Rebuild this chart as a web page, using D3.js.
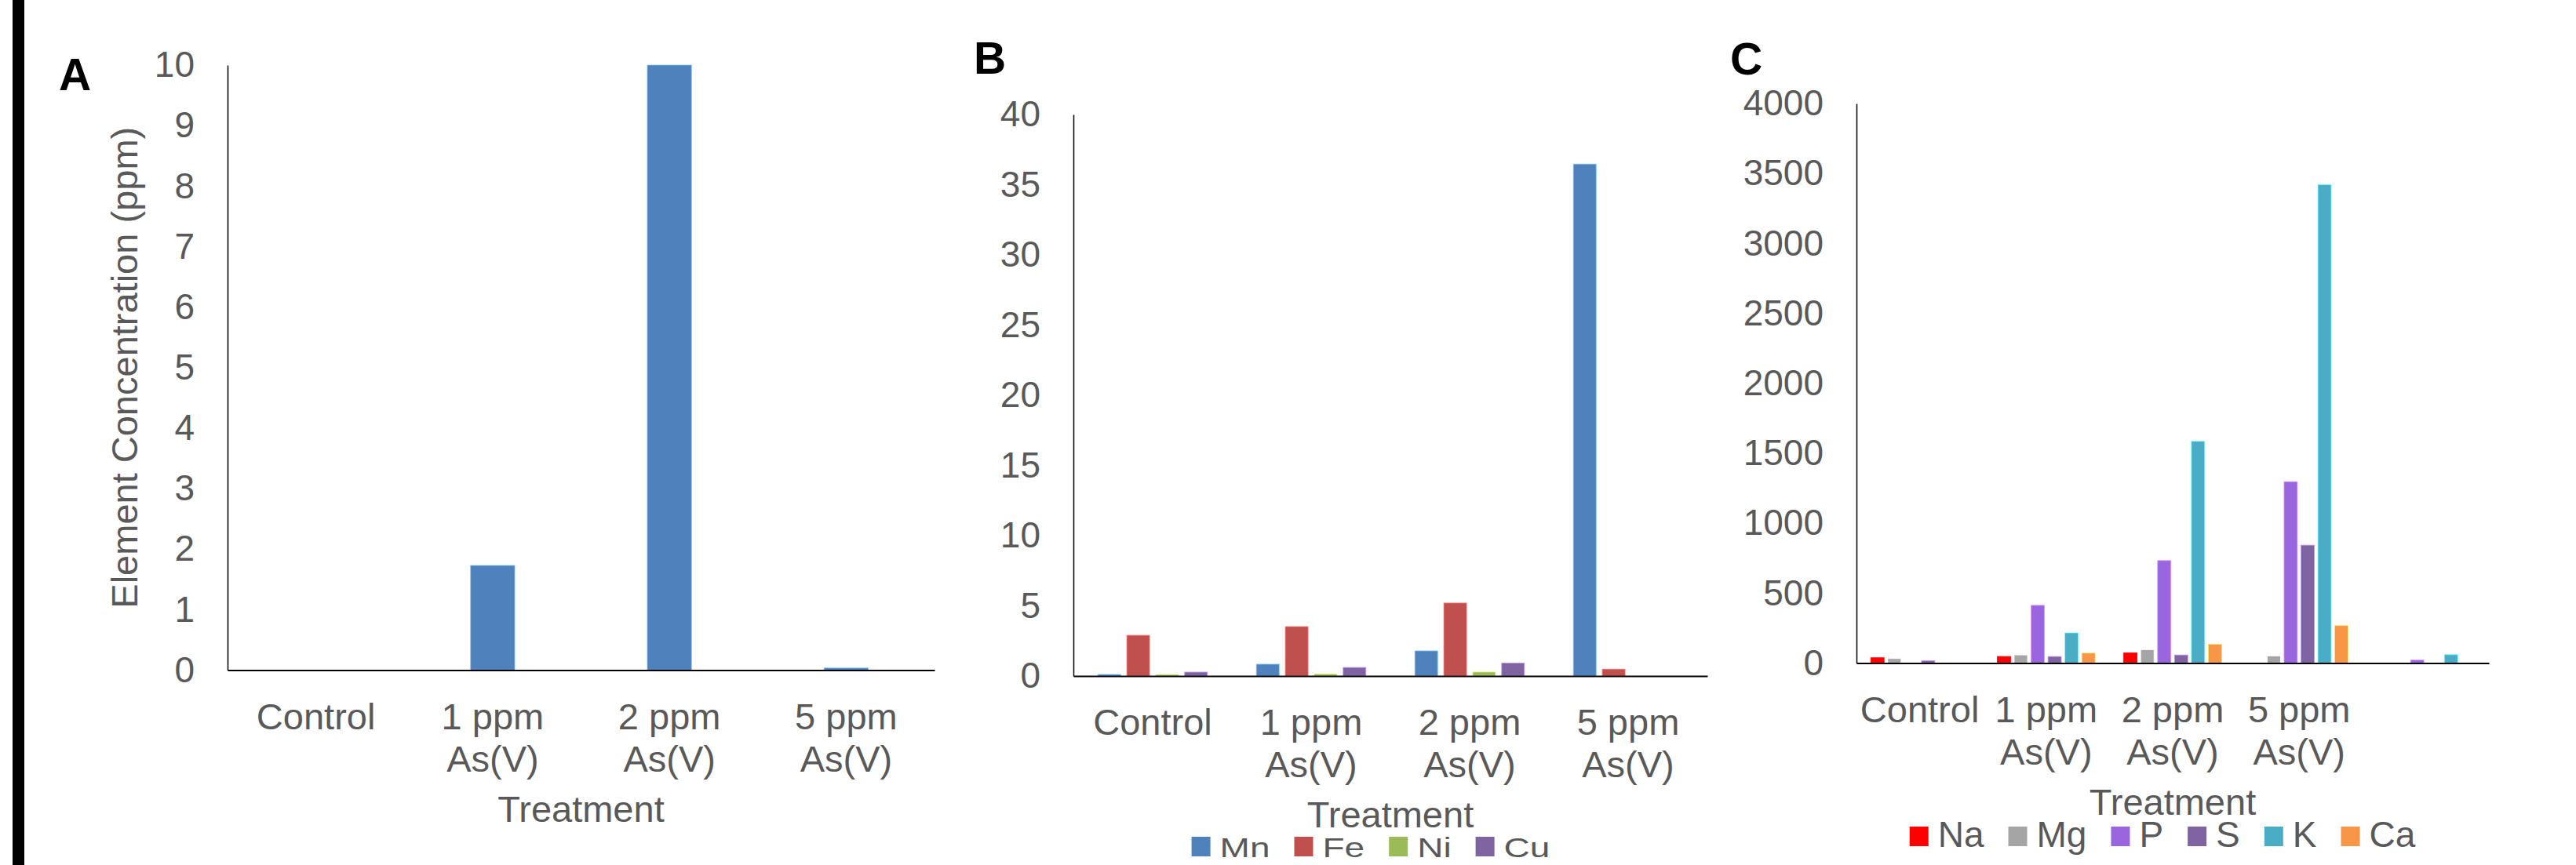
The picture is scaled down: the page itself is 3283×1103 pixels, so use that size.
<!DOCTYPE html>
<html>
<head>
<meta charset="utf-8">
<script src="https://cdn.jsdelivr.net/npm/d3@7"></script>
<style>
body { margin: 0; background: #fff; }
text { font-family: "Liberation Sans", Arial, sans-serif; }
</style>
</head>
<body>
<script>

// categories
var treatments = ["Control", "1 ppm As(V)", "2 ppm As(V)", "5 ppm As(V)"],
	treatmentsC = ["Control", "1 ppm As(V)", "2 ppm As(V)", "5 ppm As(V)", ""];

// panel A - As
var asSeries = ["As"],
	asValues = [0, 1.73, 10, 0.035],
	ticksA = [0, 1, 2, 3, 4, 5, 6, 7, 8, 9, 10];

// panel B - trace elements
var traceSeries = ["Mn", "Fe", "Ni", "Cu"],
	mnValues = [0.11, 0.84, 1.79, 36.47],
	feValues = [2.9, 3.52, 5.2, 0.49],
	niValues = [0.11, 0.15, 0.29, 0],
	cuValues = [0.28, 0.61, 0.92, 0],
	ticksB = [0, 5, 10, 15, 20, 25, 30, 35, 40];

// panel C - macro elements
var macroSeries = ["Na", "Mg", "P", "S", "K", "Ca"],
	naValues = [38, 47, 73, 0, 0],
	mgValues = [32, 58, 95, 50, 0],
	pValues = [0, 413, 733, 1297, 22],
	sValues = [17, 47, 58, 843, 0],
	kValues = [0, 216, 1585, 3420, 60],
	caValues = [0, 71, 135, 268, 0],
	ticksC = [0, 500, 1000, 1500, 2000, 2500, 3000, 3500, 4000];

var colorsA = ["#4F81BD"],
	colorsB = ["#4F81BD", "#C0504D", "#9BBB59", "#8064A2"],
	colorsC = ["#FF0000", "#A5A5A5", "#9966E0", "#8064A2", "#4BACC6", "#F79646"];

var width = 3283,
	height = 1103,
	textGray = "#595959",
	gapWidth = 2.15,   // excel-ish gap between clusters, in bar widths
	overlap = 0.27;    // space between bars in a cluster, in bar widths

var svg = d3.select("body")
	.append("svg")
	.attr("width", width)
	.attr("height", height);

svg.append("rect")
	.attr("x", 16)
	.attr("y", 0)
	.attr("width", 15)
	.attr("height", height)
	.attr("fill", "#000");

function drawPanel(p) {
	var g = svg.append("g");
	var n = p.series.length;
	var pad = gapWidth / (n + (n - 1) * overlap + gapWidth);

	var x0 = d3.scaleBand()
		.domain(p.cats)
		.range([p.left, p.right])
		.paddingInner(pad)
		.paddingOuter(pad / 2);
	var x1 = d3.scaleBand()
		.domain(p.series)
		.range([0, x0.bandwidth()])
		.paddingInner(overlap / (1 + overlap))
		.paddingOuter(0);
	var y = d3.scaleLinear()
		.domain([0, p.max])
		.range([p.bottom, p.top]);

	// bars
	p.series.forEach(function(s, i) {
		g.selectAll(null)
			.data(p.values[i])
			.enter()
			.append("rect")
			.attr("x", function(d, j) { return x0(p.cats[j]) + x1(s); })
			.attr("y", function(d) { return y(d); })
			.attr("width", x1.bandwidth())
			.attr("height", function(d) { return y(0) - y(d); })
			.attr("fill", p.colors[i])
			.attr("stroke", d3.color(p.colors[i]).brighter(1.2))
			.attr("stroke-width", 0.8)
			.style("display", function(d) { return d > 0 ? null : "none"; });
	});

	// y axis
	var yAxis = d3.axisLeft(y)
		.tickValues(p.ticks)
		.tickSize(0)
		.tickSizeOuter(0)
		.tickPadding(42)
		.tickFormat(d3.format("d"));
	var ya = g.append("g")
		.attr("transform", "translate(" + p.left + ",0)")
		.call(yAxis);
	ya.select(".domain").attr("stroke", "#000").attr("stroke-width", 1.5);
	ya.selectAll("text")
		.attr("font-family", "Liberation Sans, Arial, sans-serif")
		.attr("font-size", 46)
		.attr("fill", textGray);

	// x axis line
	var xAxis = d3.axisBottom(x0).tickSize(0).tickSizeOuter(0).tickFormat("");
	var xa = g.append("g")
		.attr("transform", "translate(0," + p.bottom + ")")
		.call(xAxis);
	xa.select(".domain").attr("stroke", "#000").attr("stroke-width", 2.2);

	// category labels, split in two lines
	p.cats.forEach(function(c) {
		var k = c.indexOf("As(V)");
		var lines = k > 0 ? [c.slice(0, k).trim(), "As(V)"] : [c];
		var t = g.append("text")
			.attr("text-anchor", "middle")
			.attr("font-size", 47)
			.attr("fill", textGray);
		lines.forEach(function(l, li) {
			t.append("tspan")
				.attr("x", x0(c) + x0.bandwidth() / 2)
				.attr("y", p.bottom + 75 + li * 54)
				.text(l);
		});
	});

	g.append("text")
		.attr("x", (p.left + p.right) / 2)
		.attr("y", p.bottom + 193)
		.attr("text-anchor", "middle")
		.attr("font-size", 47)
		.attr("fill", textGray)
		.text("Treatment");

	// panel letter
	g.append("text")
		.attr("x", p.letterX)
		.attr("y", p.letterY)
		.attr("font-size", 57)
		.attr("font-weight", "bold")
		.attr("fill", "#000")
		.text(p.letter);

	// legend
	if (p.legend) {
		var lg = g.append("g");
		var cx = 0;
		p.series.forEach(function(s, i) {
			var it = lg.append("g").attr("transform", "translate(" + cx + ",0)");
			it.append("rect")
				.attr("x", 0)
				.attr("y", -26)
				.attr("width", 24)
				.attr("height", 25)
				.attr("fill", p.colors[i]);
			var t = it.append("text")
				.attr("transform", "translate(36,0) scale(1," + p.legendSquash + ")")
				.attr("font-size", 46)
				.attr("fill", textGray)
				.text(s);
			cx += 36 + t.node().getComputedTextLength() + 31;
		});
		var total = cx - 31;
		lg.attr("transform", "translate(" + (p.legendCx - total / 2) + "," + (p.bottom + p.legendDy) + ")");
	}
	return y;
}

drawPanel({
	cats: treatments, series: asSeries, values: [asValues], colors: colorsA,
	max: 10, ticks: ticksA,
	left: 290, right: 1191, top: 83, bottom: 854.5,
	letter: "A", letterX: 75, letterY: 115,
	legend: false
});

// y title for panel A
svg.append("text")
	.attr("transform", "translate(175," + ((83 + 854.5) / 2) + ") rotate(-90)")
	.attr("text-anchor", "middle")
	.attr("font-size", 47)
	.attr("fill", textGray)
	.text("Element Concentration (ppm)");

drawPanel({
	cats: treatments, series: traceSeries,
	values: [mnValues, feValues, niValues, cuValues], colors: colorsB,
	max: 40, ticks: ticksB,
	left: 1368, right: 2176, top: 146, bottom: 862,
	letter: "B", letterX: 1241, letterY: 94,
	legend: true, legendCx: 1747, legendDy: 231, legendSquash: 0.76
});

drawPanel({
	cats: treatmentsC, series: macroSeries,
	values: [naValues, mgValues, pValues, sValues, kValues, caValues], colors: colorsC,
	max: 4000, ticks: ticksC,
	left: 2366, right: 3172, top: 132, bottom: 845.5,
	letter: "C", letterX: 2205, letterY: 95,
	legend: true, legendCx: 2756, legendDy: 234.5, legendSquash: 1
});

</script>
</body>
</html>
